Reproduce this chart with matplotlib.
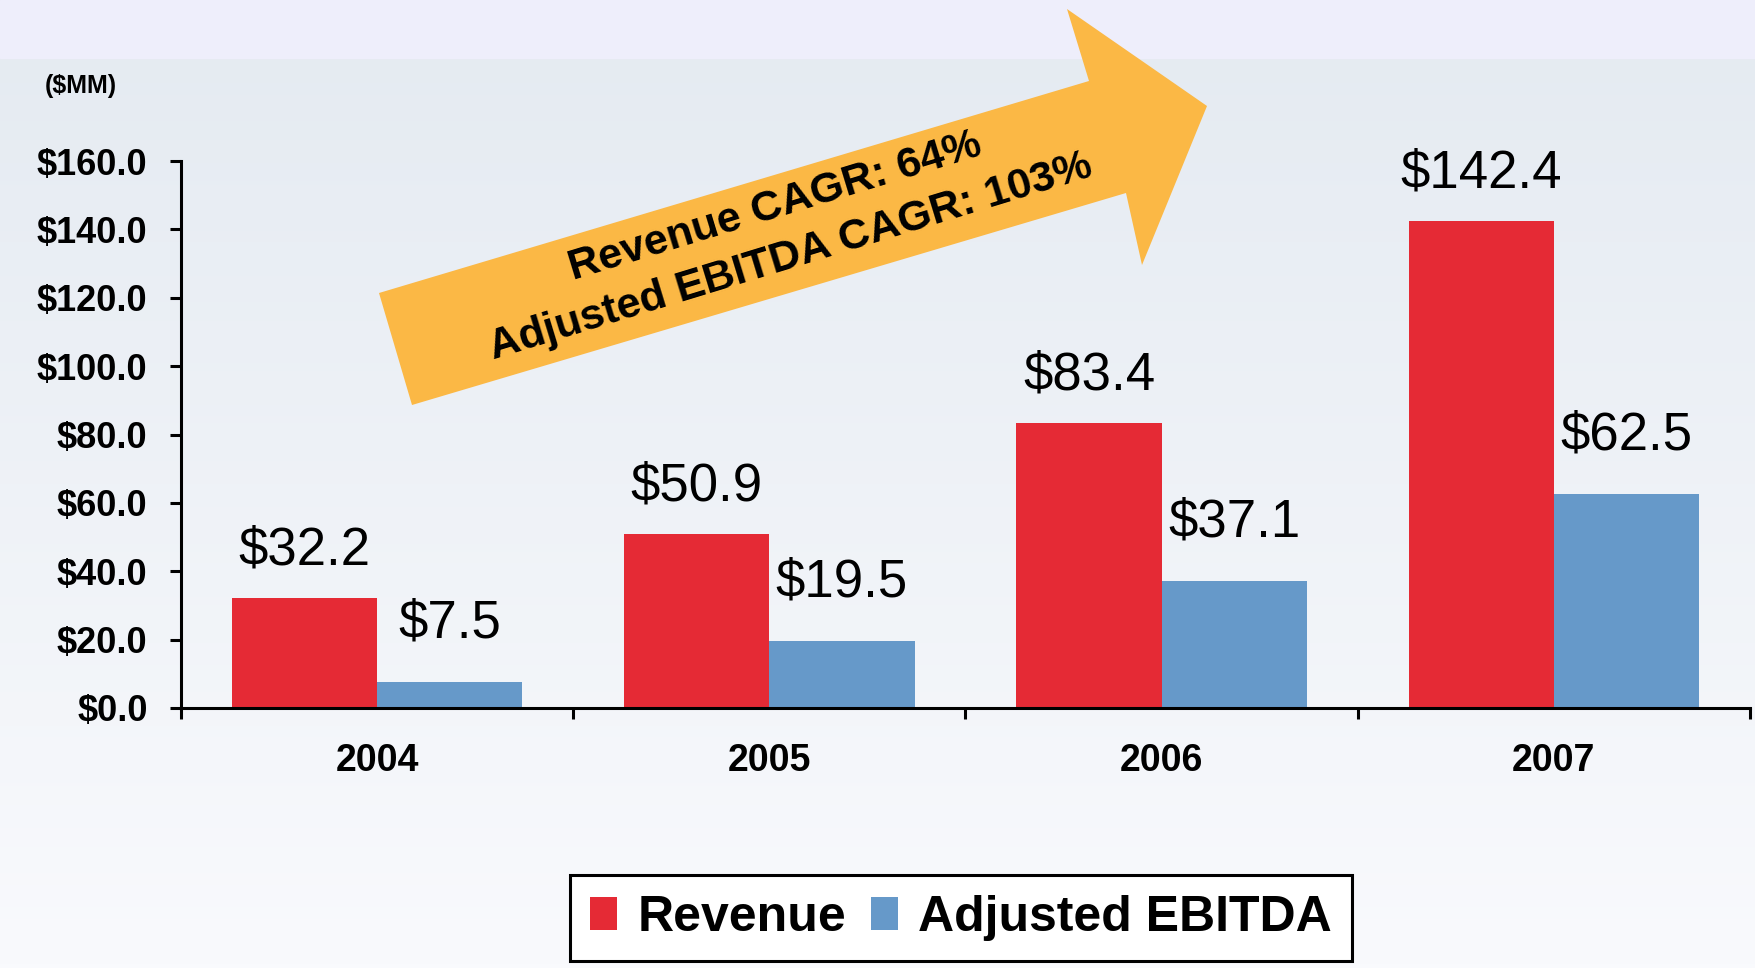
import numpy as np
import matplotlib
matplotlib.use("Agg")
import matplotlib.pyplot as plt
from matplotlib.patches import Polygon, Rectangle
from matplotlib.colors import to_rgb

plt.rcParams['font.family'] = ['Liberation Sans', 'DejaVu Sans']

years = ['2004', '2005', '2006', '2007']
revenue = [32.2, 50.9, 83.4, 142.4]
ebitda = [7.5, 19.5, 37.1, 62.5]
y_ticks = [0, 20, 40, 60, 80, 100, 120, 140, 160]
cagr_text = "Revenue CAGR: 64%\nAdjusted EBITDA CAGR: 103%"

W, H = 1756, 968
red = '#E52A35'
blue = '#6699C9'

fig = plt.figure(figsize=(W / 100, H / 100), dpi=100)

# background gradient + top band
bg = fig.add_axes([0, 0, 1, 1], zorder=-10)
top, bot = np.array(to_rgb('#E4EAF1')), np.array(to_rgb('#F9FAFD'))
t = np.linspace(0, 1, 256)[:, None, None]
img = top * (1 - t) + bot * t
img = np.repeat(img, 4, axis=1)
bg.imshow(img, aspect='auto', extent=[0, 1, 0, 1])
bg.add_patch(Rectangle((0, 1 - 58 / H), 1, 58 / H, color='#EEEEFB'))
bg.set_xlim(0, 1)
bg.set_ylim(0, 1)
bg.axis('off')

ax = fig.add_axes([181 / W, 1 - 708 / H, (1750 - 181) / W, (708 - 161) / H])
ax.patch.set_alpha(0)

x = np.arange(len(years))
w = 0.37
b1 = ax.bar(x - w / 2, revenue, w, color=red, label='Revenue', zorder=2)
b2 = ax.bar(x + w / 2, ebitda, w, color=blue, label='Adjusted EBITDA', zorder=2)

lab_font = ['Liberation Sans Narrow', 'Liberation Sans']
for xi, v in zip(x, revenue):
    ax.annotate(f"${v:.1f}", (xi - w / 2, v), xytext=(0, 24), textcoords='offset points',
                ha='center', va='baseline', fontsize=38, family=lab_font)
for xi, v in zip(x, ebitda):
    ax.annotate(f"${v:.1f}", (xi + w / 2, v), xytext=(0, 32), textcoords='offset points',
                ha='center', va='baseline', fontsize=38, family=lab_font)

ax.set_xlim(-0.5, 3.5)
ax.set_ylim(0, 160)
ax.set_yticks(y_ticks)
ax.set_yticklabels([f"${v:.1f}" for v in y_ticks], fontsize=26, fontweight='bold')
ax.set_xticks([-0.5, 0.5, 1.5, 2.5, 3.5])
ax.set_xticklabels([])
ax.set_xticks(x, minor=True)
ax.set_xticklabels(years, minor=True, fontsize=27, fontweight='bold')
ax.tick_params(axis='y', length=8, width=2.2, pad=16)
ax.tick_params(axis='x', which='major', length=8, width=2.2)
ax.tick_params(axis='x', which='minor', length=0, pad=25)
for s in ['top', 'right']:
    ax.spines[s].set_visible(False)
for s in ['left', 'bottom']:
    ax.spines[s].set_linewidth(2.2)

fig.text(81 / W, 1 - 86 / H, "($MM)", ha='center', va='center', fontsize=18, fontweight='bold')

# growth arrow
pts = [(379, 293), (1089, 81), (1067, 9), (1207, 106), (1142, 265), (1126, 193), (412, 405)]
arrow = Polygon([(px / W, 1 - py / H) for px, py in pts], closed=True,
                transform=fig.transFigure, facecolor='#FBB845', edgecolor='none', zorder=3)
fig.patches.append(arrow)
fig.text(783 / W, 1 - 232 / H, cagr_text, rotation=17, rotation_mode='anchor',
         ha='center', va='center', multialignment='center', linespacing=1.4,
         fontsize=31, fontweight='bold', zorder=4)

leg = fig.legend(handles=[b1, b2], ncol=2, loc='center', bbox_to_anchor=(961 / W, 1 - 918 / H),
                 prop={'size': 36, 'weight': 'bold'}, frameon=True, fancybox=False,
                 edgecolor='black', framealpha=1, handlelength=0.55, handleheight=0.65,
                 handletextpad=0.4, columnspacing=0.5, borderpad=0.4, borderaxespad=0)
leg.get_frame().set_linewidth(2.2)

fig.savefig('out.png', dpi=100)
